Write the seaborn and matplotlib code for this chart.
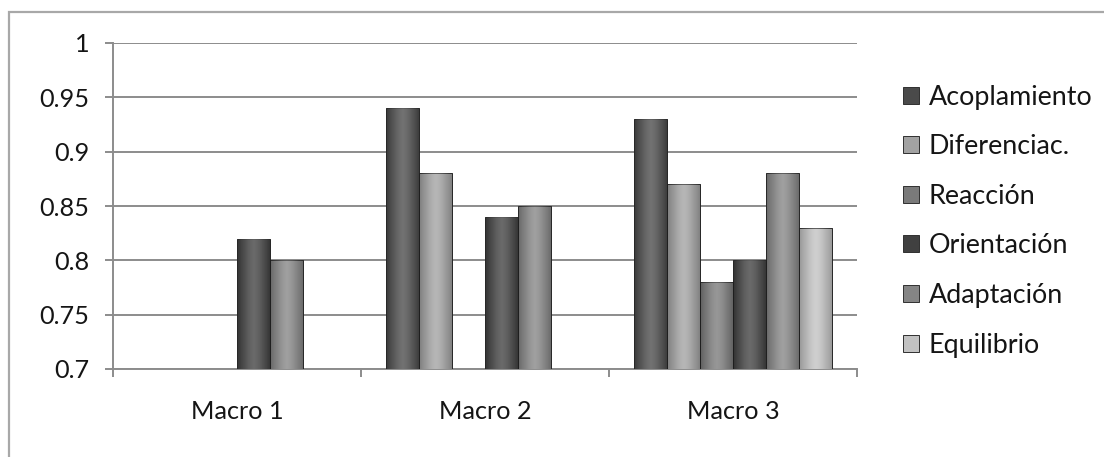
import numpy as np
import pandas as pd
import matplotlib
matplotlib.use("Agg")
import matplotlib.pyplot as plt
from matplotlib.patches import Rectangle
from matplotlib.ticker import FixedLocator, FuncFormatter
import seaborn as sns

categories = ["Macro 1", "Macro 2", "Macro 3"]
series = ["Acoplamiento", "Diferenciac.", "Reacción", "Orientación", "Adaptación", "Equilibrio"]
acoplamiento = [0.70, 0.94, 0.93]
diferenciac = [0.70, 0.88, 0.87]
reaccion = [0.70, 0.70, 0.78]
orientacion = [0.82, 0.84, 0.80]
adaptacion = [0.80, 0.85, 0.88]
equilibrio = [0.70, 0.70, 0.83]
y_ticks = [0.7, 0.75, 0.8, 0.85, 0.9, 0.95, 1.0]

colors = ["#4a4a4a", "#a2a2a2", "#7a7a7a", "#404040", "#858585", "#c2c2c2"]

rows = []
for name, vals in zip(series, [acoplamiento, diferenciac, reaccion, orientacion, adaptacion, equilibrio]):
    for c, v in zip(categories, vals):
        rows.append({"Macro": c, "Serie": name, "Valor": v})
df = pd.DataFrame(rows)

sns.set_theme(style="white")
plt.rcParams["font.family"] = ["Lato", "DejaVu Sans"]

fig = plt.figure(figsize=(11.04, 4.57), dpi=100)
renderer = fig.canvas.get_renderer()


def fit_size(text, target_px):
    t = fig.text(0, 0, text, fontsize=10)
    w = t.get_window_extent(renderer).width
    t.remove()
    return 10 * target_px / w


tick_fs = 0.5 * (fit_size("Macro 2", 91) + fit_size("0.95", 51))
leg_fs = fit_size("Acoplamiento", 164)

ax = fig.add_axes([113 / 1104, 1 - 369 / 457, (857 - 113) / 1104, (369 - 43) / 457])

sns.barplot(data=df, x="Macro", y="Valor", hue="Serie", hue_order=series,
            palette=colors, width=0.8, ax=ax, errorbar=None,
            edgecolor="#303030", linewidth=0.7, zorder=3)

ax.set_xlim(-0.5, 2.5)
ax.set_ylim(0.7, 1.0)
ymin = ax.get_ylim()[0]

# subtle bevel shading on each bar (derived from the drawn patches)
grad = np.linspace(1, 0, 48)
shade = np.concatenate([grad, grad[::-1]]).reshape(1, -1)
for p in list(ax.patches):
    x0, y0 = p.get_x(), p.get_y()
    w, h = p.get_width(), p.get_height()
    top = y0 + h
    if top <= ymin + 1e-9:
        continue
    im = ax.imshow(shade, cmap="Greys", alpha=0.22, aspect="auto",
                   extent=(x0, x0 + w, max(y0, ymin), top), zorder=4, vmin=0, vmax=1)
    im.set_clip_path(p)

ax.yaxis.set_major_locator(FixedLocator(y_ticks))
ax.yaxis.set_major_formatter(FuncFormatter(lambda v, _: f"{v:g}"))
ax.set_xlabel("")
ax.set_ylabel("")

ax.grid(axis="y", color="#8c8c8c", linewidth=1.4, zorder=0)
ax.set_axisbelow(True)
for s in ["top", "right"]:
    ax.spines[s].set_visible(False)
for s in ["left", "bottom"]:
    ax.spines[s].set_color("#8c8c8c")
    ax.spines[s].set_linewidth(1.4)

ax.tick_params(axis="y", which="major", length=6, width=1.4, color="#8c8c8c",
               direction="out", left=True, labelsize=tick_fs, labelcolor="#151515", pad=11)
ax.set_xticks([0, 1, 2])
ax.set_xticklabels(categories)
ax.tick_params(axis="x", which="major", length=0, labelsize=tick_fs, labelcolor="#151515", pad=22)
ax.xaxis.set_minor_locator(FixedLocator([-0.5, 0.5, 1.5, 2.5]))
ax.tick_params(axis="x", which="minor", length=6, width=1.4, color="#8c8c8c",
               direction="out", bottom=True)

# legend row spacing to match ~49.6 px between entries
t = fig.text(0, 0, "Acoplamiento", fontsize=leg_fs)
row_h = t.get_window_extent(renderer).height
t.remove()
fs_px = leg_fs * 100 / 72
lab_sp = max(0.2, (49.6 - row_h) / fs_px)

handles, labels = ax.get_legend_handles_labels()
ax.get_legend().remove()
fig.legend(handles, labels, loc="center left", bbox_to_anchor=(903 / 1104, 1 - 221 / 457),
           frameon=False, fontsize=leg_fs, handlelength=0.6, handleheight=0.6,
           handletextpad=0.35, labelspacing=lab_sp, borderaxespad=0, borderpad=0,
           labelcolor="#151515")

fig.add_artist(Rectangle((9 / 1104, -0.1), 1.2, 1 - 12 / 457 + 0.1,
                         transform=fig.transFigure, fill=False,
                         edgecolor="#a8a8a8", linewidth=1.6))

fig.savefig("out.png", dpi=100, facecolor="white")
